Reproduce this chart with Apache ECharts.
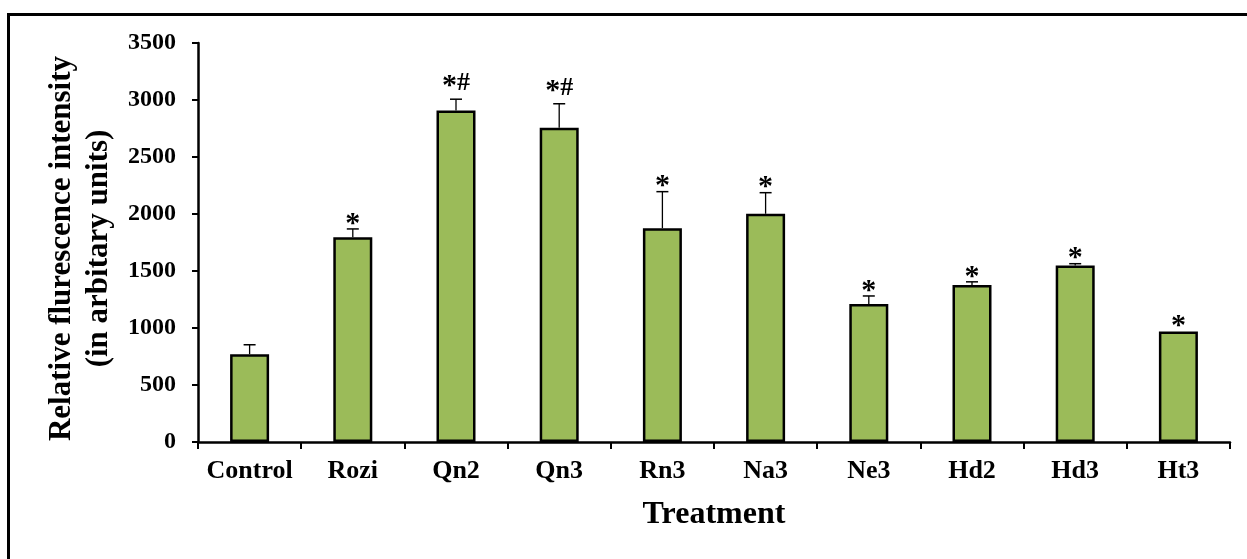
<!DOCTYPE html>
<html>
<head>
<meta charset="utf-8">
<script src="https://cdn.jsdelivr.net/npm/echarts@6/dist/echarts.min.js"></script>
<style>
html,body{margin:0;padding:0;background:#fff;overflow:hidden;}
#frame{position:absolute;left:7px;top:13px;width:2000px;height:2000px;border-left:3px solid #000;border-top:3px solid #000;}
#chart{position:absolute;left:0;top:0;width:1247px;height:559px;}
</style>
</head>
<body>
<div id="frame"></div>
<div id="chart"></div>
<script>
const categories = ['Control','Rozi','Qn2','Qn3','Rn3','Na3','Ne3','Hd2','Hd3','Ht3'];
const values = [770, 1796, 2907, 2757, 1876, 2002, 1211, 1378, 1549, 970];
const errors = [83, 73, 100, 210, 320, 185, 70, 27, 15, 0];
const marks = ['', '*', '*#', '*#', '*', '*', '*', '*', '*', '*'];
const yTicks = [0, 500, 1000, 1500, 2000, 2500, 3000, 3500];

const serif = '"Liberation Serif","Times New Roman",serif';
const chart = echarts.init(document.getElementById('chart'), null, {renderer:'canvas'});

const errData = categories.map((c, i) => [i, values[i], errors[i]]);

chart.setOption({
  animation: false,
  backgroundColor: 'transparent',
  grid: {left: 198, right: 17, top: 43, bottom: 117, containLabel: false},
  xAxis: {
    type: 'category',
    data: categories,
    name: 'Treatment',
    nameLocation: 'middle',
    nameGap: 57,
    nameTextStyle: {fontFamily: serif, fontWeight: 'bold', fontSize: 32, color: '#000'},
    axisLine: {lineStyle: {color: '#000', width: 2.5}},
    axisTick: {show: true, interval: 0, alignWithLabel: false, length: 7, lineStyle: {color: '#000', width: 2}},
    axisLabel: {interval: 0, hideOverlap: false, fontFamily: serif, fontWeight: 'bold', fontSize: 26, color: '#000', margin: 16},
    splitLine: {show: false}
  },
  yAxis: {
    type: 'value',
    min: yTicks[0],
    max: yTicks[yTicks.length - 1],
    interval: 500,
    name: 'Relative flurescence intensity\n(in arbitary units)',
    nameLocation: 'middle',
    nameGap: 80,
    nameTextStyle: {fontFamily: serif, fontWeight: 'bold', fontSize: 31, color: '#000', lineHeight: 37, align: 'center', padding: [0, 12, 0, 0]},
    axisLine: {show: true, lineStyle: {color: '#000', width: 2.5}},
    axisTick: {show: true, length: 6, lineStyle: {color: '#000', width: 2}},
    axisLabel: {fontFamily: serif, fontWeight: 'bold', fontSize: 24, color: '#000', margin: 22, formatter: function (v) { return String(v); }},
    splitLine: {show: false}
  },
  series: [
    {
      type: 'bar',
      data: values,
      barWidth: 39,
      itemStyle: {color: '#9BBB59', borderColor: '#000', borderWidth: 2.5},
      z: 2
    },
    {
      type: 'custom',
      data: errData,
      z: 3,
      renderItem: function (params, api) {
        const i = api.value(0), v = api.value(1), e = api.value(2);
        const mk = marks[i];
        const base = api.coord([i, v]);
        const top = api.coord([i, v + e]);
        const children = [];
        if (e > 0) {
          children.push({type: 'line', shape: {x1: base[0], y1: base[1], x2: top[0], y2: top[1]}, style: {stroke: '#000', lineWidth: 1.3}});
          children.push({type: 'line', shape: {x1: top[0] - 6, y1: top[1], x2: top[0] + 6, y2: top[1]}, style: {stroke: '#000', lineWidth: 1.5}});
        }
        if (mk) {
          const hasHash = mk.indexOf('#') >= 0;
          const dy = hasHash ? -13 : -5;
          const txt = mk.replace('*', '{s|*}').replace('#', '{h|#}');
          children.push({type: 'text', style: {
            text: txt, x: top[0], y: top[1] + dy, align: 'center', verticalAlign: 'middle',
            fill: '#000',
            rich: {
              s: {fontFamily: serif, fontWeight: 'bold', fontSize: 30, fill: '#000', lineHeight: 30},
              h: {fontFamily: serif, fontWeight: 'bold', fontSize: 26, fill: '#000', lineHeight: 30, padding: [0, 0, 5, 0]}
            }
          }});
        }
        return {type: 'group', children: children};
      }
    }
  ]
});
</script>
</body>
</html>
